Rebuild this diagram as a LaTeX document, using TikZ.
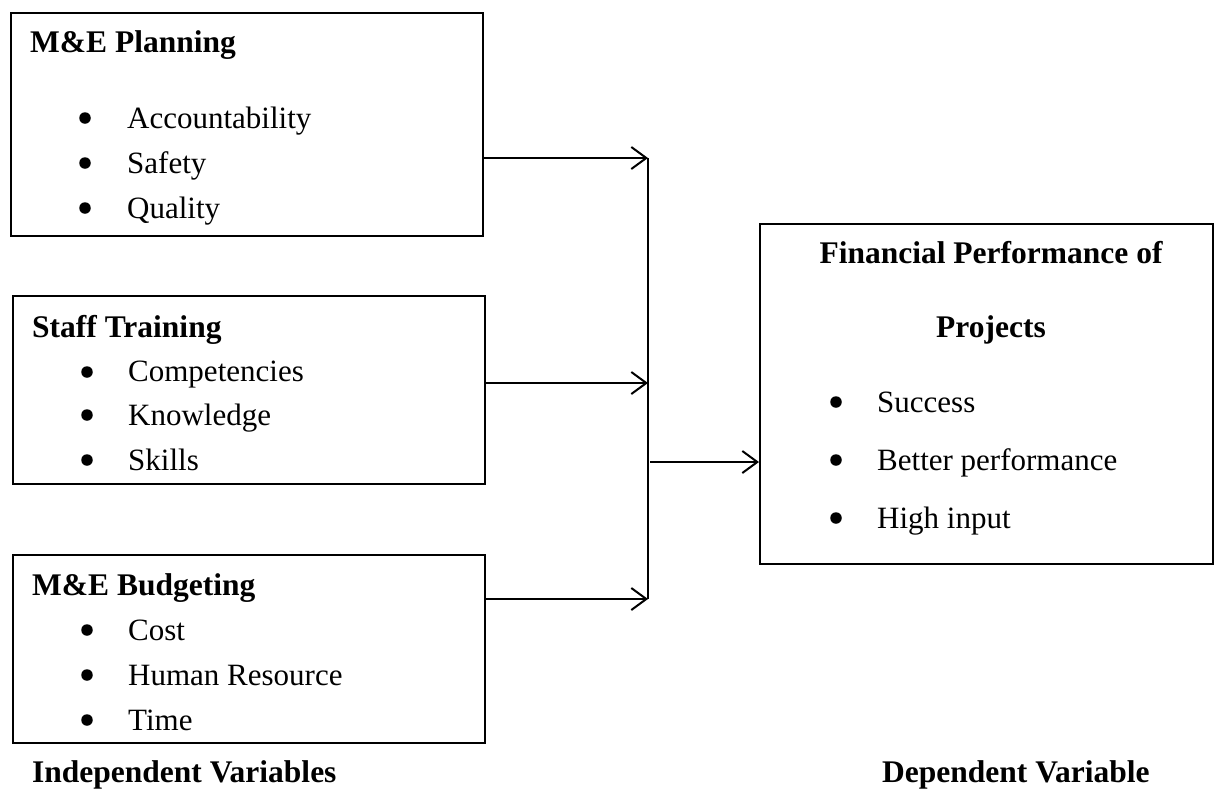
\documentclass[tikz,border=0pt]{standalone}
\usepackage{fontspec}
\setmainfont{Liberation Serif}
\usetikzlibrary{arrows.meta}
\tikzset{
  box/.style={draw=black, line width=2pt, inner sep=0pt, anchor=north west},
  txt/.style={anchor=base west, inner sep=0pt, font=\fontsize{31}{31}\selectfont},
  head/.style={txt, font=\fontsize{31.5}{31.5}\selectfont\bfseries},
  conn/.style={line width=2pt},
  arr/.style={conn, -{Straight Barb[length=15pt,width=22pt,line width=2pt]}},
  bul/.style={fill=black, circle, inner sep=0pt, minimum size=11.5pt}
}
\begin{document}
\begin{tikzpicture}[x=1pt,y=-1pt]
\useasboundingbox (0,0) rectangle (1214,788);
% boxes
\node[box, minimum width=472pt, minimum height=223pt] (b1) at (10,12) {};
\node[box, minimum width=472pt, minimum height=188pt] (b2) at (12,295) {};
\node[box, minimum width=472pt, minimum height=188pt] (b3) at (12,554) {};
\node[box, minimum width=453pt, minimum height=340pt] (out) at (759,223) {};
% box 1
\node[head] (h1) at (30,52) {M\&E Planning};
\node[bul] (p1) at (85,118) {}; \node[txt] (t11) at (127,128) {Accountability};
\node[bul] (p2) at (85,163) {}; \node[txt] (t12) at (127,173) {Safety};
\node[bul] (p3) at (85,208) {}; \node[txt] (t13) at (127,218) {Quality};
% box 2
\node[head] (h2) at (32,337) {Staff Training};
\node[bul] (q1) at (87,372) {}; \node[txt] (t21) at (128,381) {Competencies};
\node[bul] (q2) at (87,415) {}; \node[txt] (t22) at (128,425) {Knowledge};
\node[bul] (q3) at (87,460) {}; \node[txt] (t23) at (128,470) {Skills};
% box 3
\node[head] (h3) at (32,595) {M\&E Budgeting};
\node[bul] (r1) at (87,630) {}; \node[txt] (t31) at (128,640) {Cost};
\node[bul] (r2) at (87,675) {}; \node[txt] (t32) at (128,685) {Human Resource};
\node[bul] (r3) at (87,720) {}; \node[txt] (t33) at (128,730) {Time};
% output box
\node[head, anchor=base] (h4) at (991,263) {Financial Performance of};
\node[head, anchor=base] (h5) at (991,337) {Projects};
\node[bul] (s1) at (836,402) {}; \node[txt] (t41) at (877,412) {Success};
\node[bul] (s2) at (836,460) {}; \node[txt] (t42) at (877,470) {Better performance};
\node[bul] (s3) at (836,518) {}; \node[txt] (t43) at (877,528) {High input};
% captions
\node[head] (c1) at (32,782) {Independent Variables};
\node[head] (c2) at (882,782) {Dependent Variable};
% connectors
\coordinate (j1) at (648,158);
\coordinate (j2) at (648,383);
\coordinate (j3) at (648,599);
\coordinate (j4) at (650,462);
\draw[arr] (b1.east |- j1) -- (j1);
\draw[arr] (b2.east |- j2) -- (j2);
\draw[arr] (b3.east |- j3) -- (j3);
\draw[conn] (j1) -- (j3);
\draw[arr] (j4) -- (out.west |- j4);
\end{tikzpicture}
\end{document}
